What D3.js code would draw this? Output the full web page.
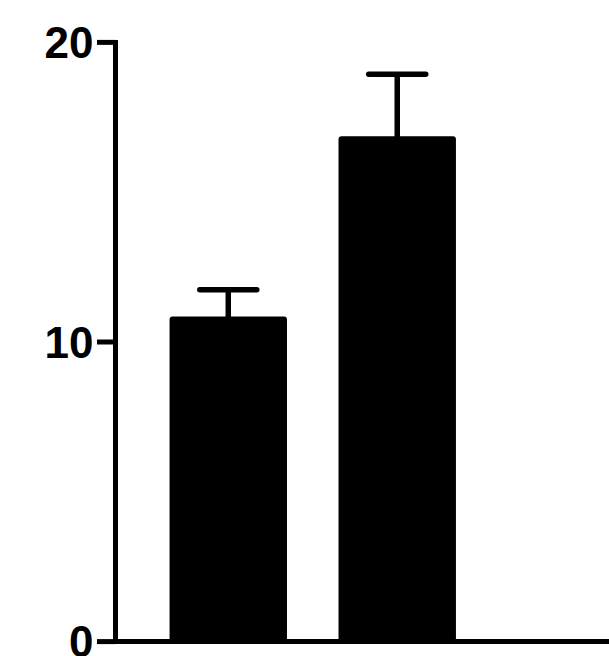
<!DOCTYPE html>
<html>
<head>
<meta charset="utf-8">
<script src="https://cdn.jsdelivr.net/npm/d3@7"></script>
<style>
  html, body { margin: 0; padding: 0; background: #fff; overflow: hidden; }
  svg { display: block; }
  .tick-label { font-family: "Liberation Sans", Arial, sans-serif; font-weight: bold; font-size: 44px; fill: #000; }
</style>
</head>
<body>
<svg class="chart"></svg>
<script>
// Data
var groups = ["Group 1", "Group 2"];
var means = [10.85, 16.87];
var errors = [0.89, 2.07];
var yTicks = [0, 10, 20];

// Size of the drawing
var w = 609;
var h = 656;

var svg = d3.select(".chart").attr("width", w).attr("height", h);

// Scales
var y = d3.scaleLinear().domain([0, 20]).range([641.6, 42.4]);
var x = d3.scaleBand().domain(groups).range([116, 509.5])
    .paddingInner(0.305).paddingOuter(0.317);

var axisX = 115.5;

// Bars
svg.append("g").selectAll("rect")
    .data(groups)
    .join("rect")
    .attr("x", function(d) { return x(d); })
    .attr("width", x.bandwidth())
    .attr("y", function(d, i) { return y(means[i]); })
    .attr("height", function(d, i) { return y(0) - y(means[i]); })
    .attr("rx", 3)
    .style("fill", "#000");

// Error bars (upper only)
var err = svg.append("g").style("stroke", "#000");
groups.forEach(function(g, i) {
    var cx = x(g) + x.bandwidth() / 2;
    var top = y(means[i] + errors[i]);
    err.append("line")
        .attr("x1", cx).attr("x2", cx)
        .attr("y1", top).attr("y2", y(means[i]) + 4)
        .style("stroke-width", 5.5);
    err.append("line")
        .attr("x1", cx - 28.5).attr("x2", cx + 28.5)
        .attr("y1", top).attr("y2", top)
        .style("stroke-width", 5.5)
        .style("stroke-linecap", "round");
});

// Y axis
var yAxis = svg.append("g");
yAxis.append("line")
    .attr("x1", axisX).attr("x2", axisX)
    .attr("y1", y(20) - 2.5).attr("y2", y(0))
    .style("stroke", "#000").style("stroke-width", 5);

yTicks.forEach(function(t) {
    yAxis.append("line")
        .attr("x1", 97).attr("x2", axisX)
        .attr("y1", y(t)).attr("y2", y(t))
        .style("stroke", "#000").style("stroke-width", 5);
    yAxis.append("text")
        .attr("class", "tick-label")
        .attr("x", 93.5)
        .attr("y", y(t))
        .attr("dy", "0.36em")
        .attr("text-anchor", "end")
        .text(t);
});

// X axis baseline runs to the right edge
svg.append("line")
    .attr("x1", axisX - 2.5).attr("x2", w)
    .attr("y1", y(0)).attr("y2", y(0))
    .style("stroke", "#000").style("stroke-width", 5);
</script>
</body>
</html>
